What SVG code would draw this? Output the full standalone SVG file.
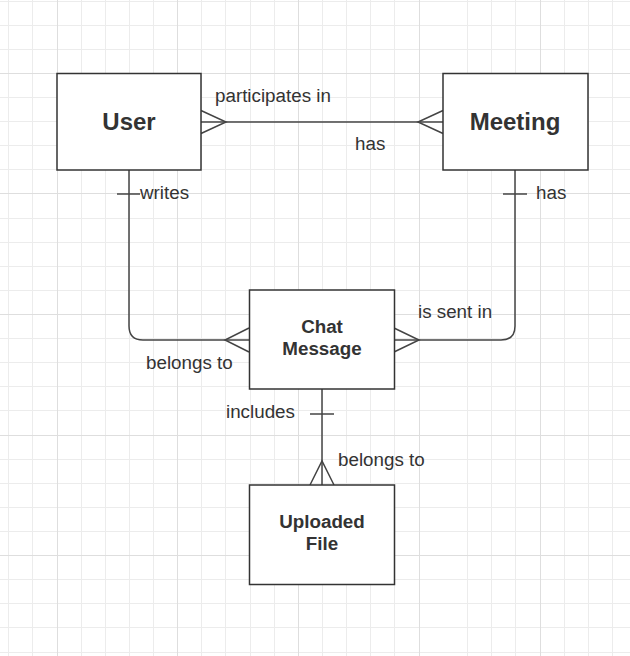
<svg xmlns="http://www.w3.org/2000/svg" width="630" height="656" viewBox="0 0 630 656">
<defs>
<style>
.minor{stroke:#ececec;stroke-width:1;fill:none}
.major{stroke:#dedede;stroke-width:1;fill:none}
.box{fill:#ffffff;stroke:#333333;stroke-width:1.5}
.edge{fill:none;stroke:#444444;stroke-width:1.5}
.lbl{font-family:"Liberation Sans",Arial,sans-serif;font-size:18.8px;fill:#333333}
.big{font-family:"Liberation Sans",Arial,sans-serif;font-size:24px;font-weight:bold;fill:#333333;text-anchor:middle}
.mid{font-family:"Liberation Sans",Arial,sans-serif;font-size:18.8px;font-weight:bold;fill:#333333;text-anchor:middle}
</style>
</defs>
<rect width="630" height="656" fill="#ffffff"/>
<g id="grid">
<path class="minor" d="M8.5 0V656M32.5 0V656M81.5 0V656M105.5 0V656M129.5 0V656M153.5 0V656M201.5 0V656M225.5 0V656M250.5 0V656M274.5 0V656M322.5 0V656M346.5 0V656M370.5 0V656M394.5 0V656M467.5 0V656M491.5 0V656M515.5 0V656M564.5 0V656M588.5 0V656M612.5 0V656"/>
<path class="minor" d="M0 1.5H630M0 25.5H630M0 49.5H630M0 97.5H630M0 121.5H630M0 145.5H630M0 169.5H630M0 218.5H630M0 242.5H630M0 266.5H630M0 290.5H630M0 338.5H630M0 362.5H630M0 386.5H630M0 410.5H630M0 459.5H630M0 483.5H630M0 507.5H630M0 531.5H630M0 579.5H630M0 603.5H630M0 627.5H630M0 652.5H630"/>
<path class="major" d="M57.5 0V656M177.5 0V656M298.5 0V656M419.5 0V656M540.5 0V656M0 73.5H630M0 193.5H630M0 314.5H630M0 435.5H630M0 555.5H630"/>
</g>
<g id="connectors">
<path class="edge" d="M201 122H443"/>
<path class="edge" d="M201 110.5L226 122L201 133.5M443 110.5L418 122L443 133.5"/>
<text class="lbl" x="215" y="102">participates in</text>
<text class="lbl" x="355" y="150">has</text>
<path class="edge" d="M129 170V326Q129 340 143 340H249"/>
<path class="edge" d="M117 194H140"/>
<path class="edge" d="M249 328L225 340L249 352"/>
<text class="lbl" x="140" y="199">writes</text>
<text class="lbl" x="146" y="369">belongs to</text>
<path class="edge" d="M515 170V326Q515 340 501 340H394"/>
<path class="edge" d="M503 194H527"/>
<path class="edge" d="M394 328L419 340L394 352"/>
<text class="lbl" x="536" y="199">has</text>
<text class="lbl" x="418" y="318">is sent in</text>
<path class="edge" d="M322 389V485"/>
<path class="edge" d="M310 414H334"/>
<path class="edge" d="M310 485L322 461L334 485"/>
<text class="lbl" x="226" y="418">includes</text>
<text class="lbl" x="338" y="466">belongs to</text>
</g>
<g id="user">
<rect class="box" x="57" y="73.5" width="144" height="96.5"/>
<text class="big" x="129" y="130">User</text>
</g>
<g id="meeting">
<rect class="box" x="443" y="73.5" width="145" height="96.5"/>
<text class="big" x="515" y="130">Meeting</text>
</g>
<g id="chat-message">
<rect class="box" x="249.5" y="290" width="145" height="99"/>
<text class="mid" x="322" y="333">Chat</text>
<text class="mid" x="322" y="355">Message</text>
</g>
<g id="uploaded-file">
<rect class="box" x="249.5" y="485" width="145" height="99.5"/>
<text class="mid" x="322" y="528">Uploaded</text>
<text class="mid" x="322" y="550">File</text>
</g>
</svg>
